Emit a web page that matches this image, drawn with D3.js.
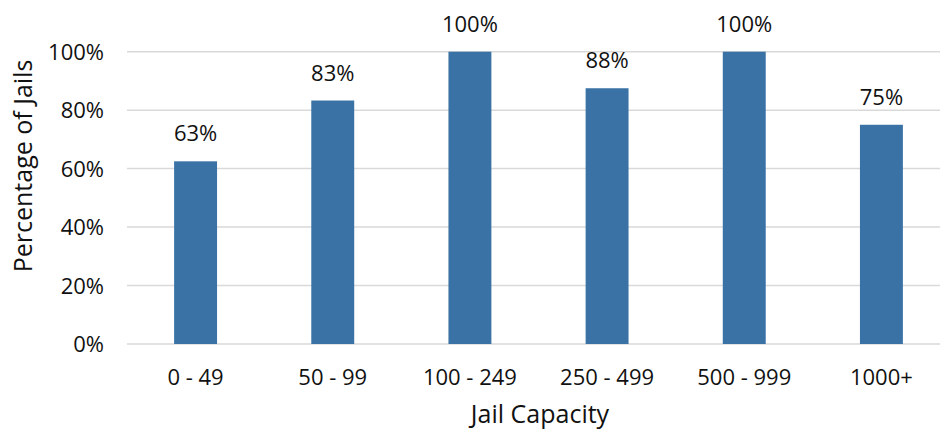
<!DOCTYPE html>
<html>
<head>
<meta charset="utf-8">
<script src="https://cdn.jsdelivr.net/npm/d3@7"></script>
<style>
  body { margin: 0; background: #fff; }
  text { font-family: "Open Sans", sans-serif; fill: #111; }
</style>
</head>
<body>
<svg id="chart" width="940" height="431"></svg>
<script>
// Data
const categories = ["0 - 49", "50 - 99", "100 - 249", "250 - 499", "500 - 999", "1000+"];
const values = [62.5, 83.3, 100, 87.5, 100, 75];
const valueLabels = ["63%", "83%", "100%", "88%", "100%", "75%"];
const yTicks = [0, 20, 40, 60, 80, 100];

const svg = d3.select("#chart");

// plot area
const plotLeft = 127, plotRight = 950, plotTop = 51.7, plotBottom = 344;

const x = d3.scaleBand()
    .domain(categories)
    .range([plotLeft, plotRight])
    .paddingInner(0.687)
    .paddingOuter(0.3435);

const y = d3.scaleLinear()
    .domain([0, 100])
    .range([plotBottom, plotTop]);

// gridlines
svg.append("g")
    .selectAll("line")
    .data(yTicks)
    .enter().append("line")
        .attr("x1", plotLeft)
        .attr("x2", plotRight)
        .attr("y1", d => y(d))
        .attr("y2", d => y(d))
        .style("stroke", "#d9d9d9")
        .style("stroke-width", 1.5);

// y tick labels
svg.append("g")
    .selectAll("text")
    .data(yTicks)
    .enter().append("text")
        .attr("x", 104)
        .attr("y", d => y(d) + 8)
        .attr("text-anchor", "end")
        .style("font-size", "22px")
        .text(d => d + "%");

// bars
svg.append("g")
    .selectAll("rect")
    .data(values)
    .enter().append("rect")
        .attr("x", (d, i) => x(categories[i]))
        .attr("width", x.bandwidth())
        .attr("y", d => y(d))
        .attr("height", d => y(0) - y(d))
        .attr("fill", "#3a72a5");

// value labels
svg.append("g")
    .selectAll("text")
    .data(values)
    .enter().append("text")
        .attr("x", (d, i) => x(categories[i]) + x.bandwidth() / 2)
        .attr("y", d => y(d) - 20)
        .attr("text-anchor", "middle")
        .style("font-size", "22px")
        .text((d, i) => valueLabels[i]);

// category labels
svg.append("g")
    .selectAll("text")
    .data(categories)
    .enter().append("text")
        .attr("x", d => x(d) + x.bandwidth() / 2)
        .attr("y", 385)
        .attr("text-anchor", "middle")
        .style("font-size", "22px")
        .text(d => d);

// axis titles
svg.append("text")
    .attr("x", 540)
    .attr("y", 423)
    .attr("text-anchor", "middle")
    .style("font-size", "25px")
    .text("Jail Capacity");

svg.append("text")
    .attr("transform", "translate(32,166) rotate(-90)")
    .attr("text-anchor", "middle")
    .style("font-size", "25px")
    .text("Percentage of Jails");
</script>
</body>
</html>
